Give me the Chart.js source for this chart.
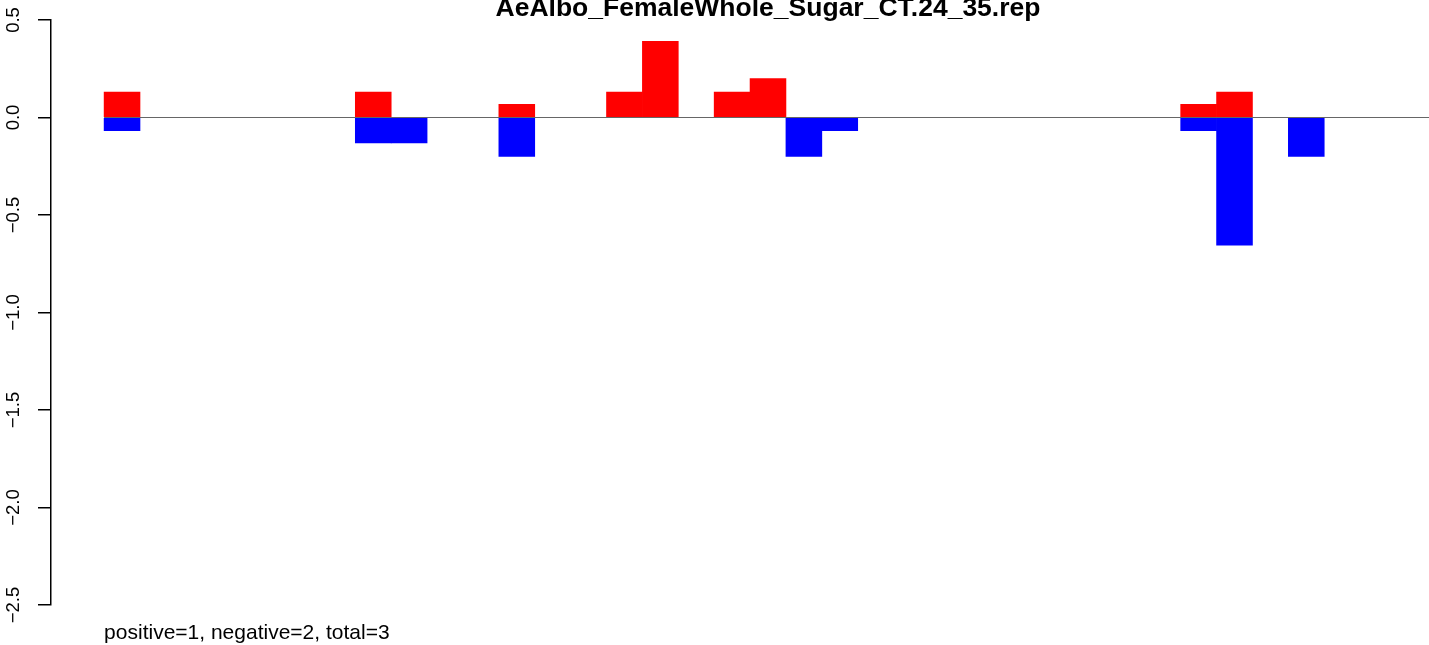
<!DOCTYPE html>
<html>
<head>
<meta charset="utf-8">
<title>AeAlbo_FemaleWhole_Sugar_CT.24_35.rep</title>
<script src="https://cdn.jsdelivr.net/npm/chart.js@4/dist/chart.umd.min.js"></script>
<style>
  html, body { margin: 0; padding: 0; background: #fff; overflow: hidden; }
  #wrap { position: relative; width: 1485px; height: 645px; }
</style>
</head>
<body>
<div id="wrap"><canvas id="chart"></canvas></div>
<script>
// data
const chartTitle = 'AeAlbo_FemaleWhole_Sugar_CT.24_35.rep';
const footerText = 'positive=1, negative=2, total=3';
const categories = [1, 2, 3, 4, 5, 6, 7, 8, 9, 10, 11, 12, 13, 14, 15, 16, 17, 18, 19,
                    20, 21, 22, 23, 24, 25, 26, 27, 28, 29, 30, 31, 32, 33, 34, 35, 36, 37];
const positive = [0.13, 0, 0, 0, 0, 0, 0, 0.13, 0, 0, 0, 0.067, 0, 0, 0.13, 0.39, 0, 0.13, 0.2,
                  0, 0, 0, 0, 0, 0, 0, 0, 0, 0, 0, 0.067, 0.13, 0, 0, 0, 0, 0];
const negative = [-0.067, 0, 0, 0, 0, 0, 0, -0.13, -0.13, 0, 0, -0.2, 0, 0, 0, 0, 0, 0, 0,
                  -0.2, -0.067, 0, 0, 0, 0, 0, 0, 0, 0, 0, -0.067, -0.655, 0, -0.2, 0, 0, 0];
const yTicks = [0.5, 0, -0.5, -1, -1.5, -2, -2.5];

Chart.defaults.font.family = "'Liberation Sans', Arial, Helvetica, sans-serif";
Chart.defaults.color = '#000';

// R style bar positions: bar i spans [i, i+1], axis padded 4% each side
const n = categories.length;
const pad = n * 0.04;
const toPoints = arr => arr.map((v, i) => ({ x: i + 0.5, y: v }));

const footerNote = {
  id: 'footerNote',
  afterDraw(chart) {
    const { ctx } = chart;
    const x = chart.scales.x.getPixelForValue(0);
    ctx.save();
    ctx.font = "21px 'Liberation Sans', Arial, sans-serif";
    ctx.fillStyle = '#000';
    ctx.textBaseline = 'alphabetic';
    ctx.fillText(footerText, x, chart.height - 6);
    ctx.restore();
  }
};

new Chart(document.getElementById('chart'), {
  type: 'bar',
  data: {
    datasets: [
      {
        type: 'line',
        data: [{ x: 0, y: 0 }, { x: n, y: 0 }],
        borderColor: '#666666',
        borderWidth: 1,
        pointRadius: 0,
        order: -1
      },
      {
        label: 'positive',
        data: toPoints(positive),
        backgroundColor: '#ff0000',
        borderWidth: 0,
        barPercentage: 1,
        categoryPercentage: 1,
        grouped: false
      },
      {
        label: 'negative',
        data: toPoints(negative),
        backgroundColor: '#0000ff',
        borderWidth: 0,
        barPercentage: 1,
        categoryPercentage: 1,
        grouped: false
      }
    ]
  },
  options: {
    responsive: true,
    maintainAspectRatio: false,
    animation: false,
    layout: { padding: { top: 0, left: 0, right: 0, bottom: 40 } },
    plugins: {
      legend: { display: false },
      tooltip: { enabled: false },
      title: {
        display: true,
        text: chartTitle,
        fullSize: false,
        color: '#000',
        font: { size: 26.5, weight: 'bold', lineHeight: '17.6px' },
        padding: { top: 0, bottom: 2.4 }
      }
    },
    scales: {
      x: {
        type: 'linear',
        display: false,
        bounds: 'data',
        min: -pad,
        max: n + pad,
        afterBuildTicks: s => { s.ticks = []; }
      },
      y: {
        min: -2.5,
        max: 0.5,
        afterFit: s => { s.width = 51; },
        afterBuildTicks: s => { s.ticks = yTicks.map(v => ({ value: v })); },
        border: { color: '#000', width: 1.5 },
        grid: { drawOnChartArea: false, drawTicks: true, tickLength: 13, color: '#000', lineWidth: 1.5 },
        ticks: {
          autoSkip: false,
          minRotation: 90,
          maxRotation: 90,
          crossAlign: 'center',
          padding: 6,
          font: { size: 18.5 },
          color: '#000',
          callback: v => (v < 0 ? '\u2212' : '') + Math.abs(v).toFixed(1)
        }
      }
    }
  },
  plugins: [footerNote]
});
</script>
</body>
</html>
